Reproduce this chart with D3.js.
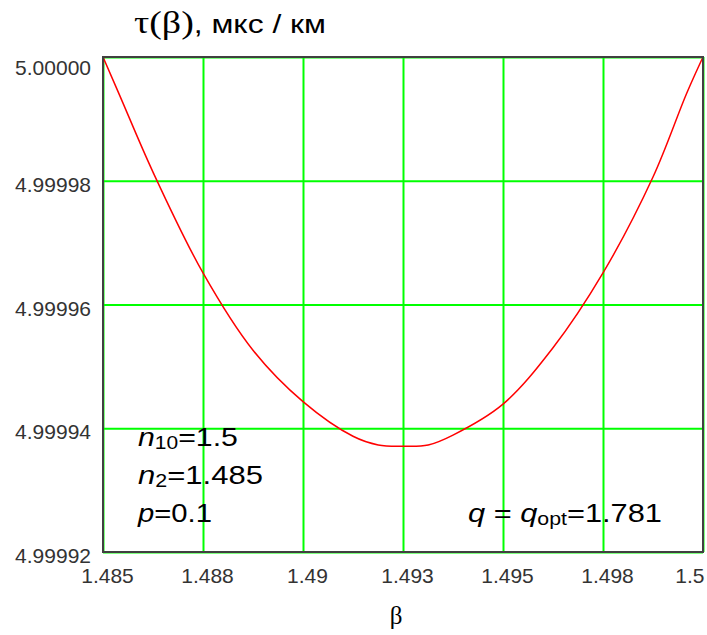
<!DOCTYPE html>
<html>
<head>
<meta charset="utf-8">
<script src="https://cdn.jsdelivr.net/npm/d3@7"></script>
<style>
  body { margin: 0; background: #fff; }
  svg { display: block; }
</style>
</head>
<body>
<div id="container"></div>
<script>
/* DATA */
const betaValues = [1.485, 1.48543, 1.48625, 1.4875, 1.48875, 1.49, 1.49125, 1.49188,
  1.4925, 1.49313, 1.49375, 1.495, 1.49625, 1.4975, 1.49875, 1.49959, 1.5];
const tauValues = [5.0, 4.9999936, 4.9999814, 4.9999651, 4.9999526, 4.9999443, 4.9999387, 4.9999373,
  4.9999371, 4.9999373, 4.9999389, 4.9999439, 4.999953, 4.9999651, 4.9999806, 4.9999941, 5.0];

const xTickValues = [1.485, 1.4875, 1.49, 1.4925, 1.495, 1.4975, 1.5];
const xTickLabels = ["1.485", "1.488", "1.49", "1.493", "1.495", "1.498", "1.5"];
const yTickValues = [4.99992, 4.99994, 4.99996, 4.99998, 5.0];
const yTickLabels = ["4.99992", "4.99994", "4.99996", "4.99998", "5.00000"];

/* CONSTANTS */
const width = 707, height = 635;
const margin = {top: 57, left: 103, bottom: 83, right: 4};

const data = betaValues.map((b, i) => ({beta: b, tau: tauValues[i]}));

// SCALES
const xScale = d3.scaleLinear()
  .domain([1.485, 1.5])
  .range([margin.left, width - margin.right]);

const yScale = d3.scaleLinear()
  .domain([4.99992, 5.0])
  .range([height - margin.bottom, margin.top]);

// SVG
const svg = d3.select("#container")
  .append("svg")
  .attr("width", width)
  .attr("height", height);

svg.append("rect").attr("width", width).attr("height", height).attr("fill", "#fff");

// GRID LINES
const xGrid = d3.axisBottom(xScale)
  .tickValues(xTickValues)
  .tickSize(-(yScale.range()[0] - yScale.range()[1]))
  .tickFormat("");
svg.append("g")
  .attr("class", "grid")
  .attr("transform", `translate(0,${yScale.range()[0]})`)
  .call(xGrid);

const yGrid = d3.axisLeft(yScale)
  .tickValues(yTickValues)
  .tickSize(-(xScale.range()[1] - xScale.range()[0]))
  .tickFormat("");
svg.append("g")
  .attr("class", "grid")
  .attr("transform", `translate(${xScale.range()[0]},0)`)
  .call(yGrid);

svg.selectAll(".grid .domain").remove();
svg.selectAll(".grid line")
  .attr("stroke", "#00ff00")
  .attr("stroke-width", 2);

// CURVE
const lineGen = d3.line()
  .x(d => xScale(d.beta))
  .y(d => yScale(d.tau))
  .curve(d3.curveCatmullRom.alpha(0.5));

svg.append("path")
  .datum(data)
  .attr("d", lineGen)
  .attr("fill", "none")
  .attr("stroke", "#ff0000")
  .attr("stroke-width", 1.5);

// FRAME
svg.append("rect")
  .attr("x", xScale.range()[0])
  .attr("y", yScale.range()[1])
  .attr("width", xScale.range()[1] - xScale.range()[0])
  .attr("height", yScale.range()[0] - yScale.range()[1])
  .attr("fill", "none")
  .attr("stroke", "#404040")
  .attr("stroke-width", 2);

// TICK LABELS
const xAxis = d3.axisBottom(xScale)
  .tickValues(xTickValues)
  .tickSize(0)
  .tickPadding(0)
  .tickFormat((d, i) => xTickLabels[i]);
const gx = svg.append("g")
  .attr("transform", `translate(0,${yScale.range()[0]})`)
  .call(xAxis);
gx.select(".domain").remove();
gx.selectAll("text")
  .attr("dy", null)
  .attr("y", 31)
  .attr("dx", (d, i) => i === xTickValues.length - 1 ? 1 : 4)
  .attr("text-anchor", (d, i) => i === xTickValues.length - 1 ? "end" : "middle")
  .attr("fill", "#333")
  .style("font-family", "'Liberation Sans', Arial, sans-serif")
  .style("font-size", "21px");

const yAxis = d3.axisLeft(yScale)
  .tickValues(yTickValues)
  .tickSize(0)
  .tickPadding(12)
  .tickFormat((d, i) => yTickLabels[i]);
const gy = svg.append("g")
  .attr("transform", `translate(${xScale.range()[0]},0)`)
  .call(yAxis);
gy.select(".domain").remove();
gy.selectAll("text")
  .attr("dy", (d, i) => i === yTickValues.length - 1 ? "0.83em" : "0.5em")
  .attr("fill", "#333")
  .style("font-family", "'Liberation Sans', Arial, sans-serif")
  .style("font-size", "21px");

// fit a text element to a measured width
function fitWidth(sel, x, target) {
  const w = sel.node().getComputedTextLength();
  const k = target / w;
  sel.attr("transform", `translate(${x},0) scale(${k},1) translate(${-x},0)`);
}

// TITLE
const title = svg.append("text")
  .attr("x", 134).attr("y", 33)
  .style("font-family", "'Liberation Sans', Arial, sans-serif")
  .style("font-size", "26px")
  .attr("fill", "#000");
title.append("tspan").text("τ(β)")
  .style("font-family", "'Liberation Serif', 'Times New Roman', serif")
  .style("font-size", "31px");
title.append("tspan").text(", мкс / км");
fitWidth(title, 134, 192);

// X AXIS LABEL
svg.append("text")
  .attr("x", 396).attr("y", 624)
  .attr("text-anchor", "middle")
  .style("font-family", "'Liberation Serif', 'Times New Roman', serif")
  .style("font-size", "25px")
  .text("β");

// ANNOTATIONS
const annoFont = "'Liberation Sans', Arial, sans-serif";
function annotate(x, y, parts, target) {
  const t = svg.append("text")
    .attr("x", x).attr("y", y)
    .style("font-family", annoFont)
    .style("font-size", "26px")
    .attr("fill", "#000");
  parts.forEach(p => {
    const s = t.append("tspan").text(p.t);
    if (p.i) s.style("font-style", "italic");
    if (p.sub) s.style("font-size", "18px").attr("dy", 3);
    if (p.back) s.attr("dy", -3);
  });
  fitWidth(t, x, target);
}

annotate(138, 446, [{t: "n", i: true}, {t: "10", sub: true}, {t: "=1.5", back: true}], 100);
annotate(138, 484, [{t: "n", i: true}, {t: "2", sub: true}, {t: "=1.485", back: true}], 125);
annotate(138, 522, [{t: "p", i: true}, {t: "=0.1"}], 74);
annotate(468, 522, [{t: "q", i: true}, {t: " = "}, {t: "q", i: true}, {t: "opt", sub: true}, {t: "=1.781", back: true}], 194);
</script>
</body>
</html>
